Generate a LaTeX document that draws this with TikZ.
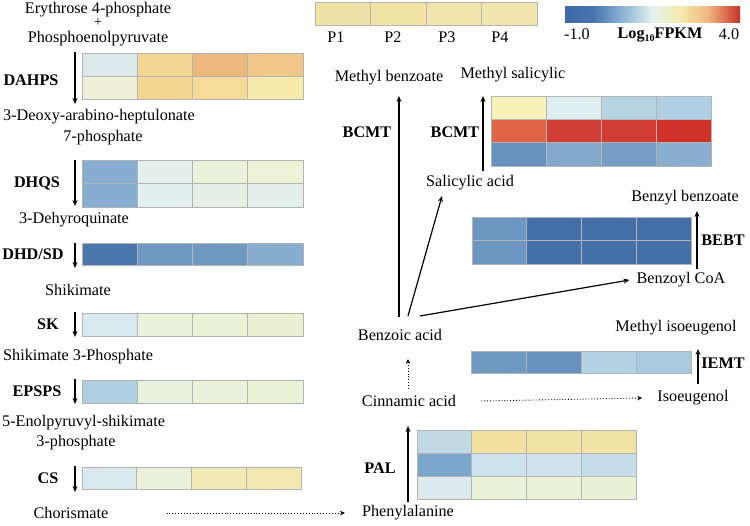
\documentclass[tikz,border=0pt]{standalone}
\usepackage{fontspec}
\setmainfont{Liberation Serif}
\usetikzlibrary{arrows.meta}
\definecolor{gridc}{HTML}{B4B4B4}
\definecolor{cb0}{HTML}{3E68A8}
\definecolor{cb1}{HTML}{4874AE}
\definecolor{cb2}{HTML}{93B8D6}
\definecolor{cb3}{HTML}{E6F2EE}
\definecolor{cb4}{HTML}{F4EBAE}
\definecolor{cb5}{HTML}{EFB47E}
\definecolor{cb6}{HTML}{C63227}
\pgfdeclarehorizontalshading{cbar}{100bp}{color(0bp)=(cb0); color(25bp)=(cb0); color(33bp)=(cb1); color(42bp)=(cb2); color(50bp)=(cb3); color(58bp)=(cb4); color(66bp)=(cb5); color(75bp)=(cb6); color(100bp)=(cb6)}
\newcommand\hmrow[5]{\foreach \cc [count=\ii from 0] in {#5}{\definecolor{hmc}{HTML}{\cc}\filldraw[fill=hmc,draw=gridc,line width=0.6pt] ({#1+\ii*#3},#2) rectangle ++(#3,#4);}}
\newcommand\fsz{\fontsize{16.2}{18}\selectfont}
\tikzset{
  txt/.style={inner sep=0pt,font=\fsz},
  enz/.style={inner sep=0pt,font=\fsz\bfseries},
  arr/.style={line width=1.2pt,-{Stealth[length=6pt,width=5pt]}},
  darr/.style={line width=0.9pt,dotted,-{Stealth[length=5pt,width=4.5pt]}}
}
\begin{document}
\begin{tikzpicture}[x=1pt,y=-1pt]
\fill[white] (0,0) rectangle (750,526);
\useasboundingbox (0,0) rectangle (750,526);
% ---------- legend ----------
\hmrow{315}{2}{55.5}{23}{F0E1A6,F2E3A4,F0E5AA,F0E5AC}
\node[txt] (p1) at (336,37) {P1};
\node[txt] (p2) at (393,37) {P2};
\node[txt] (p3) at (447,37) {P3};
\node[txt] (p4) at (500,37) {P4};
\shade[shading=cbar] (565,7) rectangle (740,23);
\node[txt] (lm) at (577,34) {-1.0};
\node[enz] (lg) at (660,35) {Log\raisebox{-0.35ex}{\fontsize{10}{10}\selectfont 10}FPKM};
\node[txt] (lx) at (729,34) {4.0};
% ---------- left pathway ----------
\node[txt] (ery) at (98,9.5) {Erythrose 4-phosphate};
\node[inner sep=0pt,font=\fontsize{14}{14}\selectfont] (plus) at (98,22.5) {+};
\node[txt] (pep) at (98,38.5) {Phosphoenolpyruvate};
\hmrow{82}{53}{55.25}{23}{DCE9EA,F4D592,ECB87D,F2C88A}
\hmrow{82}{76}{55.25}{23}{EEF1D6,F5D68E,F6DC98,F7EAAA}
\node[enz] (dahps) at (31,80) {DAHPS};
\coordinate (a1s) at (75,52); \coordinate (a1e) at (75,104);
\draw[arr] (a1s) -- (a1e);
\node[txt,anchor=west] (deoxy) at (3,117) {3-Deoxy-arabino-heptulonate};
\node[txt] (sevenp) at (103,138) {7-phosphate};
\hmrow{82}{160}{55.25}{23.5}{87AED0,E3F0EC,EAF2DC,EDF2D8}
\hmrow{82}{183.5}{55.25}{23.5}{87AED0,E2F0EE,E6F1E5,E3F0EC}
\node[enz] (dhqs) at (37,183) {DHQS};
\coordinate (a2s) at (75,160); \coordinate (a2e) at (75,206);
\draw[arr] (a2s) -- (a2e);
\node[txt] (dehyd) at (74,220) {3-Dehyroquinate};
\hmrow{82}{243}{55.25}{22}{4A78AD,6E97C1,6F98C1,87AECF}
\node[enz] (dhd) at (33,254) {DHD/SD};
\coordinate (a3s) at (75,243); \coordinate (a3e) at (75,268);
\draw[arr] (a3s) -- (a3e);
\node[txt] (shik) at (78,290) {Shikimate};
\hmrow{82}{313}{55.25}{23}{DAE9EF,EBF2D9,EBF2D6,ECF1D3}
\node[enz] (sk) at (48,324) {SK};
\coordinate (a4s) at (75,312); \coordinate (a4e) at (75,337);
\draw[arr] (a4s) -- (a4e);
\node[txt,anchor=west] (s3p) at (3,357) {Shikimate 3-Phosphate};
\hmrow{82}{380}{55.25}{23}{AFD0E2,E9F2DC,EBF2DA,ECF2D8}
\node[enz] (epsps) at (37,391) {EPSPS};
\coordinate (a5s) at (75,379); \coordinate (a5e) at (75,404);
\draw[arr] (a5s) -- (a5e);
\node[txt,anchor=west] (enol) at (2,423) {5-Enolpyruvyl-shikimate};
\node[txt] (threep) at (76,443) {3-phosphate};
\hmrow{82}{467}{54.75}{22}{DAE9EF,EBF2D9,F3EBB5,F3E8B1}
\node[enz] (cs) at (48,478) {CS};
\coordinate (a6s) at (75,466); \coordinate (a6e) at (75,492);
\draw[arr] (a6s) -- (a6e);
\node[txt] (chor) at (71,513) {Chorismate};
\node[txt] (phe) at (408,513) {Phenylalanine};
\draw[darr] ([xshift=58pt]chor.east) -- ([xshift=-17pt]phe.west);
% ---------- right pathway ----------
\hmrow{417}{430}{54.75}{23}{C0D9E3,F2E1A0,F1E3A4,F1E3A4}
\hmrow{417}{453}{54.75}{23}{7AA6CC,CCE2ED,CFE4EE,C6DEEA}
\hmrow{417}{476}{54.75}{23}{DCEAEF,EBF2D7,EBF2D6,EBF1D4}
\node[enz] (pal) at (380,468) {PAL};
\node[txt] (cin) at (409,401) {Cinnamic acid};
\coordinate (p1s) at (408,502); \coordinate (p1e) at (408,426);
\draw[arr] (p1s) -- (p1e);
\node[txt] (benz) at (400,335) {Benzoic acid};
\coordinate (c1s) at (408,389); \coordinate (c1e) at (408,359);
\draw[darr] (c1s) -- (c1e);
\node[txt] (iso) at (693,398) {Isoeugenol};
\draw[darr] ([xshift=25pt]cin.east) -- ([xshift=-15pt]iso.west);
\hmrow{471}{351}{55}{22}{7099C2,6690BD,B4D2E3,A8C9DE}
\node[txt] (miso) at (676,328) {Methyl isoeugenol};
\node[enz] (iemt) at (723,363) {IEMT};
\coordinate (i1s) at (698,384); \coordinate (i1e) at (698,349);
\draw[arr] (i1s) -- (i1e);
\hmrow{472}{217}{54.75}{23.5}{6D97C0,4470A7,4470A7,4470A7}
\hmrow{472}{240.5}{54.75}{23.5}{6D97C0,4470A7,4470A7,4470A7}
\node[txt] (bcoa) at (681,280) {Benzoyl CoA};
\node[txt] (bbz) at (685,198) {Benzyl benzoate};
\node[enz] (bebt) at (723,240) {BEBT};
\coordinate (b1s) at (697,269); \coordinate (b1e) at (697,211);
\draw[arr] (b1s) -- (b1e);
\coordinate (bz1) at (420,316); \coordinate (bz2) at (408,316); \coordinate (bz3) at (399,317);
\draw[arr] (bz1) -- ([xshift=-7pt]bcoa.west);
\node[txt] (sal) at (470,183) {Salicylic acid};
\coordinate (sal1) at (442,196);
\draw[arr] (bz2) -- (sal1);
\hmrow{491}{96}{55}{23.33}{F7F2B5,DEEEF0,B8D4E3,B0CFE2}
\hmrow{491}{119.33}{55}{23.33}{E06448,D23E35,D23B31,CF3229}
\hmrow{491}{142.67}{55}{23.33}{6690BD,82A9CB,779FC5,8AAECF}
\node[txt] (msal) at (513,75) {Methyl salicylic};
\node[txt] (mbz) at (389,78) {Methyl benzoate};
\coordinate (s1s) at (483,171); \coordinate (s1e) at (483,96);
\draw[arr] (s1s) -- (s1e);
\coordinate (m1e) at (399,96);
\draw[arr] (bz3) -- (m1e);
\node[enz] (bcmt1) at (367,132) {BCMT};
\node[enz] (bcmt2) at (455,132) {BCMT};
\end{tikzpicture}
\end{document}
